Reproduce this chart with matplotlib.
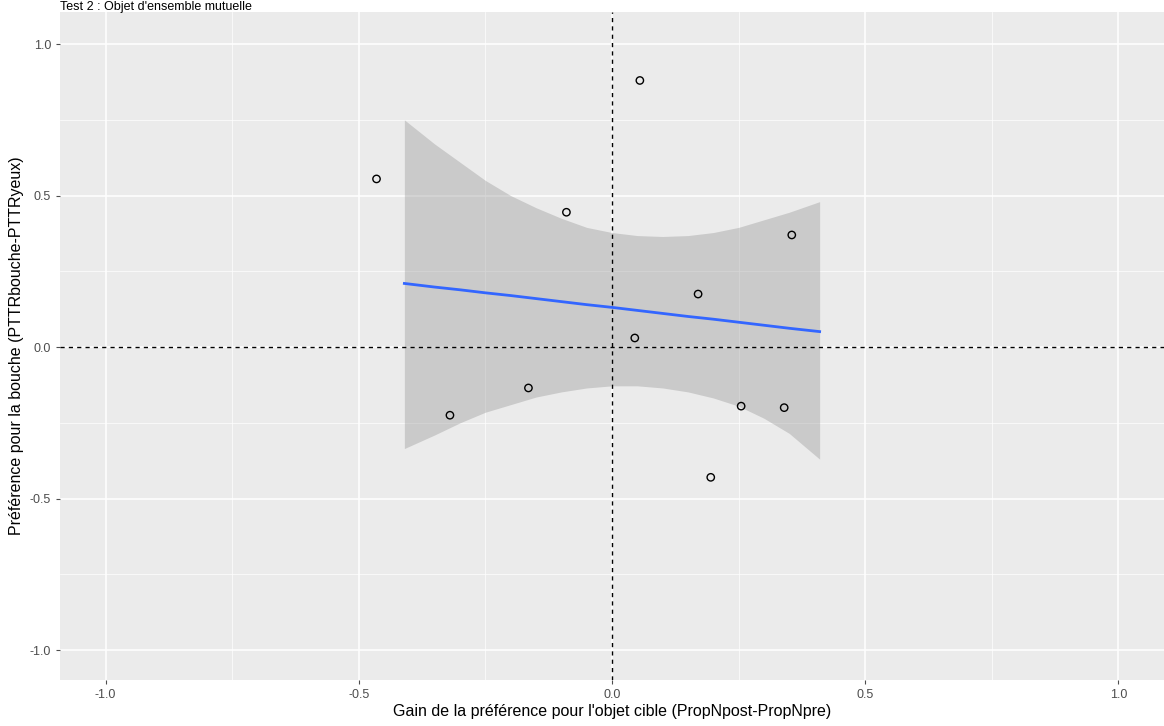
import numpy as np
import matplotlib.pyplot as plt

plt.rcParams['font.family'] = ['Liberation Sans', 'DejaVu Sans']

# Données
gain = np.array([-0.465, -0.32, -0.165, -0.09, 0.045, 0.055, 0.17, 0.195, 0.255, 0.34, 0.355])
pref = np.array([0.555, -0.225, -0.135, 0.445, 0.03, 0.88, 0.175, -0.43, -0.195, -0.2, 0.37])

# Droite de régression et bande de confiance
fit_x = [-0.41, -0.35, -0.3, -0.25, -0.2, -0.15, -0.1, -0.05, 0.0, 0.05, 0.1, 0.15, 0.2, 0.25, 0.3, 0.35, 0.41]
fit_y = [0.21, 0.198, 0.189, 0.179, 0.17, 0.16, 0.15, 0.14, 0.131, 0.121, 0.111, 0.101, 0.092, 0.082, 0.072, 0.062, 0.051]
ci_upper = [0.75, 0.67, 0.61, 0.55, 0.50, 0.46, 0.425, 0.395, 0.378, 0.368, 0.365, 0.368, 0.378, 0.395, 0.42, 0.445, 0.48]
ci_lower = [-0.335, -0.29, -0.25, -0.215, -0.19, -0.165, -0.148, -0.135, -0.128, -0.128, -0.135, -0.148, -0.168, -0.195, -0.235, -0.285, -0.37]

fig = plt.figure(figsize=(11.64, 7.26), dpi=100)
ax = fig.add_axes([60/1164, 46/726, 1104/1164, 668/726])
ax.set_facecolor('#EBEBEB')
for s in ax.spines.values():
    s.set_visible(False)

ticks = [-1.0, -0.5, 0.0, 0.5, 1.0]
minor = [-0.75, -0.25, 0.25, 0.75]
for t in ticks:
    ax.axhline(t, color='white', lw=1.1, zorder=0)
    ax.axvline(t, color='white', lw=1.1, zorder=0)
for t in minor:
    ax.axhline(t, color='white', lw=0.5, zorder=0)
    ax.axvline(t, color='white', lw=0.5, zorder=0)

ax.fill_between(fit_x, ci_lower, ci_upper, color='#999999', alpha=0.4, lw=0, zorder=1)
ax.plot(fit_x, fit_y, color='#3366FF', lw=2, zorder=2)

ax.axhline(0, color='black', lw=1, dashes=(3, 3), zorder=3)
ax.axvline(0, color='black', lw=1, dashes=(3, 3), zorder=3)
ax.scatter(gain, pref, s=28, facecolors='none', edgecolors='black', lw=1, zorder=4)

ax.set_xlim(-1.09, 1.09)
ax.set_ylim(-1.099, 1.106)
ax.set_xticks(ticks)
ax.set_yticks(ticks)
ax.set_xticklabels(['-1.0', '-0.5', '0.0', '0.5', '1.0'])
ax.set_yticklabels(['-1.0', '-0.5', '0.0', '0.5', '1.0'])
ax.tick_params(colors='#4D4D4D', labelsize=9, length=3)
ax.set_xlabel("Gain de la préférence pour l'objet cible (PropNpost-PropNpre)", fontsize=11.5, labelpad=2)
ax.set_ylabel("Préférence pour la bouche (PTTRbouche-PTTRyeux)", fontsize=11.5, labelpad=4)
fig.text(60/1164, 0.991, "Test 2 : Objet d'ensemble mutuelle", fontsize=9, va='center', ha='left')

fig.savefig('out.png', dpi=100)
